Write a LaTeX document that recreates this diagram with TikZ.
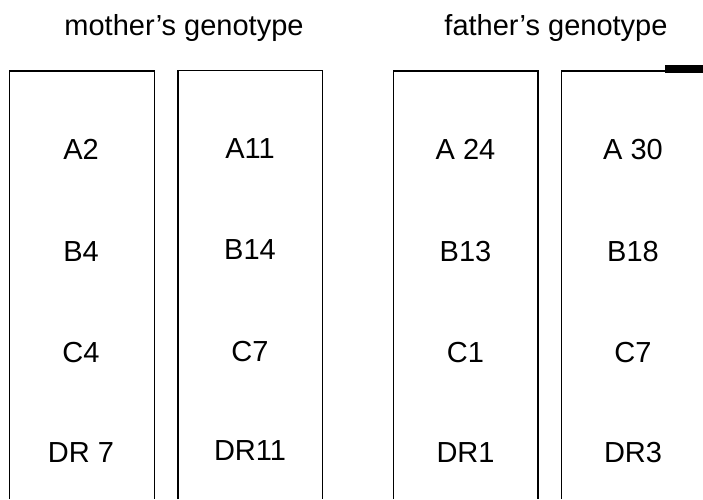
\documentclass[tikz,border=0pt]{standalone}
\usepackage{fontspec}
\setmainfont{Liberation Sans}
\begin{document}
\begin{tikzpicture}[x=1pt,y=-1pt,
  boxline/.style={draw=black,line width=1.6pt},
  lbl/.style={anchor=base,inner sep=0pt,font=\fontsize{29}{34}\selectfont},
  ttl/.style={anchor=base,inner sep=0pt,font=\fontsize{29}{34}\selectfont}]
\useasboundingbox (0,0) rectangle (703,499);
% titles
\node[ttl] (mt) at (184,35) {mother’s genotype};
\node[ttl] (ft) at (556,35) {father’s genotype};
% boxes (open at the bottom)
\draw[boxline] (9.5,499) -- (9.5,71) -- (154.5,71) -- (154.5,499);
\draw[boxline] (178,499) -- (178,70.5) -- (322.5,70.5) -- (322.5,499);
\draw[boxline] (393.5,499) -- (393.5,71) -- (538,71) -- (538,499);
\draw[boxline] (561.5,499) -- (561.5,71) -- (706,71);
\fill[black] (665,65) rectangle (703,72.5);
% box 1
\node[lbl] (a1) at (81,159) {A2};
\node[lbl] (b1) at (81,261) {B4};
\node[lbl] (c1) at (81,362) {C4};
\node[lbl] (d1) at (81,462) {DR 7};
% box 2
\node[lbl] (a2) at (250,158) {A11};
\node[lbl] (b2) at (250,259) {B14};
\node[lbl] (c2) at (250,361) {C7};
\node[lbl] (d2) at (250,460) {DR11};
% box 3
\node[lbl] (a3) at (465.5,159) {A 24};
\node[lbl] (b3) at (465.5,261) {B13};
\node[lbl] (c3) at (465.5,362) {C1};
\node[lbl] (d3) at (465.5,462) {DR1};
% box 4
\node[lbl] (a4) at (633,159) {A 30};
\node[lbl] (b4) at (633,261) {B18};
\node[lbl] (c4) at (633,362) {C7};
\node[lbl] (d4) at (633,462) {DR3};
\end{tikzpicture}
\end{document}
